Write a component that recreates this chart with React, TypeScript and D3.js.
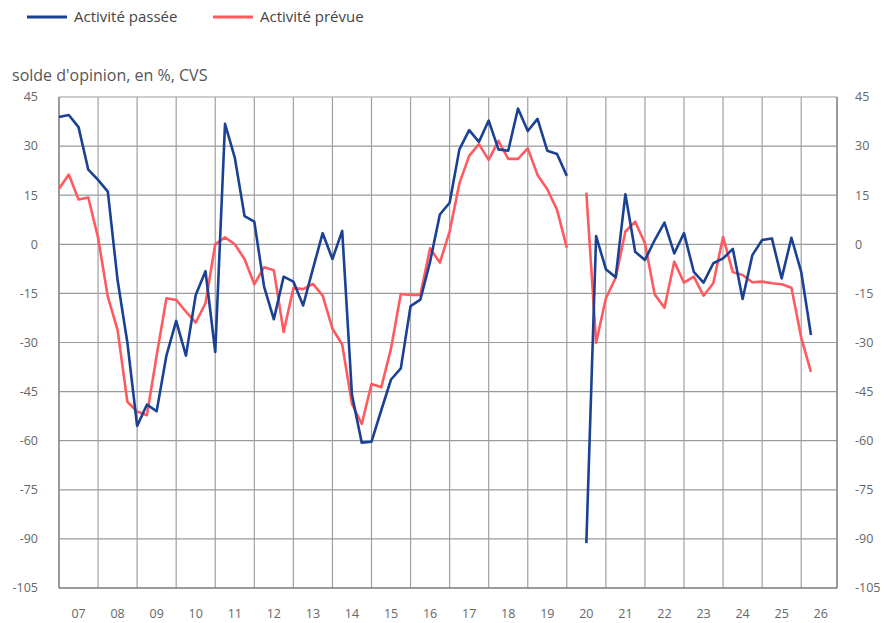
import React, { useEffect, useRef } from 'react';
import * as d3 from 'd3';

// quarterly, 2007Q1 .. 2026Q2 (null = no survey in 2020Q2)
const passee: (number | null)[] = [
  38.9, 39.5, 35.8, 22.8, 19.7, 16.1, -11, -30,
  -55.5, -49, -51, -34, -23.4, -34, -15.5, -8.2,
  -32.9, 36.8, 26.5, 8.6, 6.9, -12.9, -22.9, -9.9,
  -11.4, -18.7, -7.5, 3.4, -4.5, 4.1, -46, -60.6,
  -60.3, -50.7, -41.3, -37.9, -18.9, -16.9, -5.3, 9.1,
  12.7, 29.0, 34.9, 31.3, 37.8, 29.0, 28.6, 41.5,
  34.6, 38.3, 28.6, 27.6, 20.9, null, -91.3, 2.5,
  -7.6, -10.1, 15.3, -2.3, -4.8, 1.3, 6.6, -2.8,
  3.4, -8.4, -11.7, -5.8, -4.3, -1.4, -16.7, -3.3,
  1.3, 1.8, -10.4, 2.0, -8.4, -27.7,
];

const prevue: (number | null)[] = [
  17, 21.3, 13.7, 14.3, 2, -16, -26.2, -48.1,
  -51.1, -52.2, -34, -16.5, -17, -20.6, -23.9, -18,
  0, 2.1, 0, -4.5, -12.2, -7, -7.9, -26.8,
  -13.4, -13.7, -12.1, -15.7, -25.8, -30.6, -48.8, -54.9,
  -42.7, -43.7, -31.8, -15.2, -15.5, -15.5, -1.2, -5.6,
  3.9, 18.6, 27, 30.6, 25.8, 31.6, 26.1, 26.1,
  29.3, 21.2, 16.8, 10.5, -1, null, 15.8, -30.1,
  -16.5, -10.2, 3.9, 6.9, 0.3, -15.3, -19.4, -5.3,
  -11.7, -9.9, -15.7, -11.9, 2.2, -8.5, -9.4, -11.6,
  -11.4, -11.9, -12.2, -13.3, -28.5, -39,
];

const yTicks = [45, 30, 15, 0, -15, -30, -45, -60, -75, -90, -105];
const years = d3.range(2007, 2027);

const W = 885;
const H = 623;
const left = 59;
const right = 837;
const top = 97;
const bottom = 588;
const font = "'Open Sans', 'Noto Sans', sans-serif";
const blue = '#1a4193';
const red = '#ff5a5f';

export default function App() {
  const ref = useRef<SVGSVGElement>(null);

  useEffect(() => {
    const svg = d3.select(ref.current);
    svg.selectAll('*').remove();

    const x = d3.scaleLinear().domain([2007, 2026 + 11 / 12]).range([left, right]);
    const y = d3.scaleLinear().domain([-105, 45]).range([bottom, top]);
    const t = (i: number) => 2007 + i / 4;

    // grid
    const grid = svg.append('g');
    grid.selectAll('line.h')
      .data(yTicks.filter(d => d > -105))
      .enter().append('line')
      .attr('x1', left).attr('x2', right)
      .attr('y1', d => y(d)).attr('y2', d => y(d))
      .attr('stroke', '#9a9a9a').attr('stroke-width', 1.2);
    grid.selectAll('line.v')
      .data(years.slice(1))
      .enter().append('line')
      .attr('x1', d => x(d)).attr('x2', d => x(d))
      .attr('y1', top).attr('y2', bottom)
      .attr('stroke', '#a0a0a0').attr('stroke-width', 1.2);

    // axis frame lines
    svg.append('line').attr('x1', left).attr('x2', left).attr('y1', top).attr('y2', bottom)
      .attr('stroke', '#7a7a7a').attr('stroke-width', 1.5);
    svg.append('line').attr('x1', right).attr('x2', right).attr('y1', top).attr('y2', bottom)
      .attr('stroke', '#7a7a7a').attr('stroke-width', 1.5);
    svg.append('line').attr('x1', left).attr('x2', right).attr('y1', bottom).attr('y2', bottom)
      .attr('stroke', '#7a7a7a').attr('stroke-width', 1.5);

    // y labels both sides
    const lab = svg.append('g').attr('font-family', font).attr('font-size', 12.5).attr('fill', '#666');
    lab.selectAll('text.l').data(yTicks).enter().append('text')
      .attr('x', 38).attr('y', d => y(d)).attr('dy', '0.35em')
      .attr('text-anchor', 'end').text(d => d);
    lab.selectAll('text.r').data(yTicks).enter().append('text')
      .attr('x', 855).attr('y', d => y(d)).attr('dy', '0.35em')
      .attr('text-anchor', 'start').text(d => d);
    lab.selectAll('text.x').data(years).enter().append('text')
      .attr('x', d => x(d + 0.5)).attr('y', 614).attr('dy', '0.35em')
      .attr('text-anchor', 'middle').text(d => String(d % 100).padStart(2, '0'));

    // series
    const line = d3.line<number | null>()
      .defined(d => d !== null)
      .x((_, i) => x(t(i)))
      .y(d => y(d as number));
    svg.append('path').datum(prevue).attr('d', line)
      .attr('fill', 'none').attr('stroke', red).attr('stroke-width', 2.6).attr('stroke-linejoin', 'round');
    svg.append('path').datum(passee).attr('d', line)
      .attr('fill', 'none').attr('stroke', blue).attr('stroke-width', 2.6).attr('stroke-linejoin', 'round');

    // title
    svg.append('text').attr('x', 12).attr('y', 81).attr('font-family', font)
      .attr('font-size', 16).attr('fill', '#555').text("solde d'opinion, en %, CVS");

    // legend
    const legend = [
      { label: 'Activité passée', color: blue, x: 27 },
      { label: 'Activité prévue', color: red, x: 213 },
    ];
    const lg = svg.append('g').selectAll('g').data(legend).enter().append('g');
    lg.append('line').attr('x1', d => d.x).attr('x2', d => d.x + 40)
      .attr('y1', 17).attr('y2', 17).attr('stroke', d => d.color).attr('stroke-width', 3);
    lg.append('text').attr('x', d => d.x + 47).attr('y', 17).attr('dy', '0.35em')
      .attr('font-family', font).attr('font-size', 15).attr('fill', '#444').text(d => d.label);
  }, []);

  return (
    <svg ref={ref} width={W} height={H}
      style={{ position: 'absolute', left: 0, top: 0, background: '#fff' }} />
  );
}
